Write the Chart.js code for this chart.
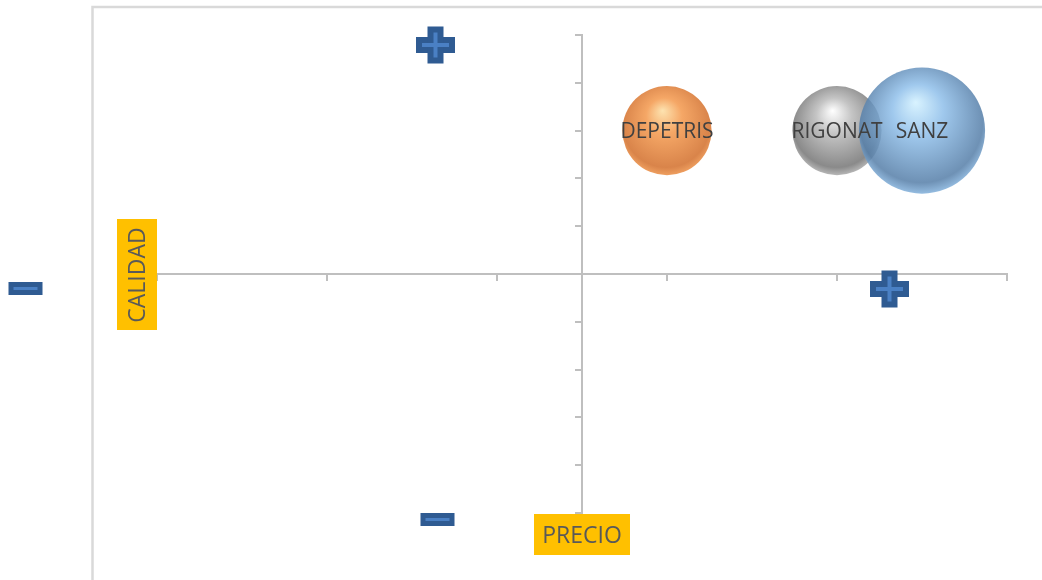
<!DOCTYPE html>
<html>
<head>
<meta charset="utf-8">
<script src="https://cdn.jsdelivr.net/npm/chart.js@4"></script>
<style>
  html, body { margin: 0; padding: 0; background: #fff; }
  #wrap { width: 1042px; height: 580px; }
</style>
</head>
<body>
<div id="wrap"><canvas id="chart" width="1042" height="580"></canvas></div>
<script>
// data
const companies = ["DEPETRIS", "RIGONAT", "SANZ"];
const precio = [1, 3, 4];      // x
const calidad = [3, 3, 3];     // y
const tamano = [1, 1, 2];      // bubble size
const xTicks = [-5, -3, -1, 1, 3, 5];
const yTicks = [-5, -4, -3, -2, -1, 0, 1, 2, 3, 4, 5];

const BUBBLE_SCALE = 44.6; // px radius for size 1
const FONT = "'Open Sans', 'DejaVu Sans', sans-serif";

// sphere colours: highlight, base, edge, alpha
const sphereColors = [
    ["#fde3b0", "#f5a766", "#d9844a", 1],
    ["#ffffff", "#c4c4c4", "#8a8a8a", 1],
    ["#d2f1ff", "#8fbfea", "#557ea8", 0.85],
];

function sphereFill(ctx) {
    const c = sphereColors[ctx.dataIndex] || sphereColors[0];
    const chart = ctx.chart;
    if (!chart.chartArea || !ctx.raw) return c[1];
    const cx = chart.scales.x.getPixelForValue(ctx.raw.x);
    const cy = chart.scales.y.getPixelForValue(ctx.raw.y);
    const r = ctx.raw.r;
    const g = chart.ctx.createRadialGradient(cx - 0.1 * r, cy - 0.45 * r, 0, cx, cy - 0.1 * r, 1.15 * r);
    const a = c[3];
    const withA = (hex) => {
        const n = parseInt(hex.slice(1), 16);
        return `rgba(${n >> 16}, ${(n >> 8) & 255}, ${n & 255}, ${a})`;
    };
    g.addColorStop(0, withA(c[0]));
    g.addColorStop(0.35, withA(c[1]));
    g.addColorStop(0.85, withA(c[2]));
    g.addColorStop(1, withA(c[1]));
    return g;
}

// outer frame, axis titles with yellow boxes, +/- marks, bubble labels
const decorPlugin = {
    id: "decor",
    beforeDraw(chart) {
        const ctx = chart.ctx;
        ctx.save();
        ctx.strokeStyle = "#d9d9d9";
        ctx.lineWidth = 2.5;
        ctx.strokeRect(92.5, 7, 2000, 2000);
        ctx.restore();
    },
    afterDatasetsDraw(chart) {
        const ctx = chart.ctx;
        const meta = chart.getDatasetMeta(0);
        ctx.save();
        ctx.font = `21px ${FONT}`;
        ctx.fillStyle = "#404040";
        ctx.textAlign = "center";
        ctx.textBaseline = "middle";
        meta.data.forEach((el, i) => {
            ctx.fillText(companies[i], el.x, el.y + 1);
        });
        ctx.restore();
    },
    afterDraw(chart) {
        const ctx = chart.ctx;
        const area = chart.chartArea;
        const x0 = chart.scales.x.getPixelForValue(0);
        const y0 = chart.scales.y.getPixelForValue(0);
        ctx.save();
        ctx.font = `23px ${FONT}`;
        ctx.textAlign = "center";
        ctx.textBaseline = "middle";

        // CALIDAD (vertical)
        ctx.fillStyle = "#ffc000";
        ctx.fillRect(area.left - 40, y0 - 55, 40, 111);
        ctx.save();
        ctx.translate(area.left - 20, y0 + 1);
        ctx.rotate(-Math.PI / 2);
        ctx.fillStyle = "#595959";
        ctx.fillText("CALIDAD", 0, 1);
        ctx.restore();

        // PRECIO
        ctx.fillStyle = "#ffc000";
        ctx.fillRect(x0 - 48, area.bottom + 1, 96, 41);
        ctx.fillStyle = "#595959";
        ctx.fillText("PRECIO", x0, area.bottom + 23);

        // plus / minus signs
        const plus = (cx, cy) => {
            const w = 39, t = 16;
            ctx.fillStyle = "#2f5b92";
            ctx.fillRect(cx - w / 2, cy - t / 2, w, t);
            ctx.fillRect(cx - t / 2, cy - w / 2 + 1, t, w - 2);
            ctx.fillStyle = "#4a80c4";
            ctx.fillRect(cx - w / 2 + 6, cy - 2, w - 12, 4);
            ctx.fillRect(cx - 2, cy - w / 2 + 7, 4, w - 14);
        };
        const minus = (cx, cy) => {
            ctx.fillStyle = "#2f5b92";
            ctx.fillRect(cx - 17, cy - 6.5, 34, 13);
            ctx.fillStyle = "#4a80c4";
            ctx.fillRect(cx - 12, cy - 1.5, 24, 3);
        };
        plus(435.5, 45);
        plus(889.5, 289);
        minus(25.5, 288.5);
        minus(437.5, 519.5);
        ctx.restore();
    }
};

const points = companies.map((name, i) => ({
    x: precio[i],
    y: calidad[i],
    r: Math.sqrt(tamano[i]) * BUBBLE_SCALE
}));

new Chart(document.getElementById("chart").getContext("2d"), {
    type: "bubble",
    data: {
        datasets: [{
            label: "Empresas",
            data: points,
            backgroundColor: sphereFill,
            borderWidth: 0,
            clip: false,
        }]
    },
    options: {
        responsive: false,
        animation: false,
        events: [],
        layout: { autoPadding: false, padding: { left: 157, right: 35, top: 35, bottom: 67 } },
        plugins: {
            legend: { display: false },
            tooltip: { enabled: false },
        },
        scales: {
            x: {
                type: "linear",
                min: -5,
                max: 5,
                position: { y: 0 },
                afterBuildTicks: (scale) => { scale.ticks = xTicks.map(v => ({ value: v })); },
                ticks: { display: false },
                grid: { drawOnChartArea: false, drawTicks: true, tickLength: 6, color: "#bfbfbf", lineWidth: 2 },
                border: { color: "#bfbfbf", width: 2 },
            },
            y: {
                type: "linear",
                min: -5,
                max: 5,
                position: { x: 0 },
                afterBuildTicks: (scale) => { scale.ticks = yTicks.map(v => ({ value: v })); },
                ticks: { display: false },
                grid: { drawOnChartArea: false, drawTicks: true, tickLength: 6, color: "#bfbfbf", lineWidth: 2 },
                border: { color: "#bfbfbf", width: 2 },
            }
        }
    },
    plugins: [decorPlugin]
});
</script>
</body>
</html>
